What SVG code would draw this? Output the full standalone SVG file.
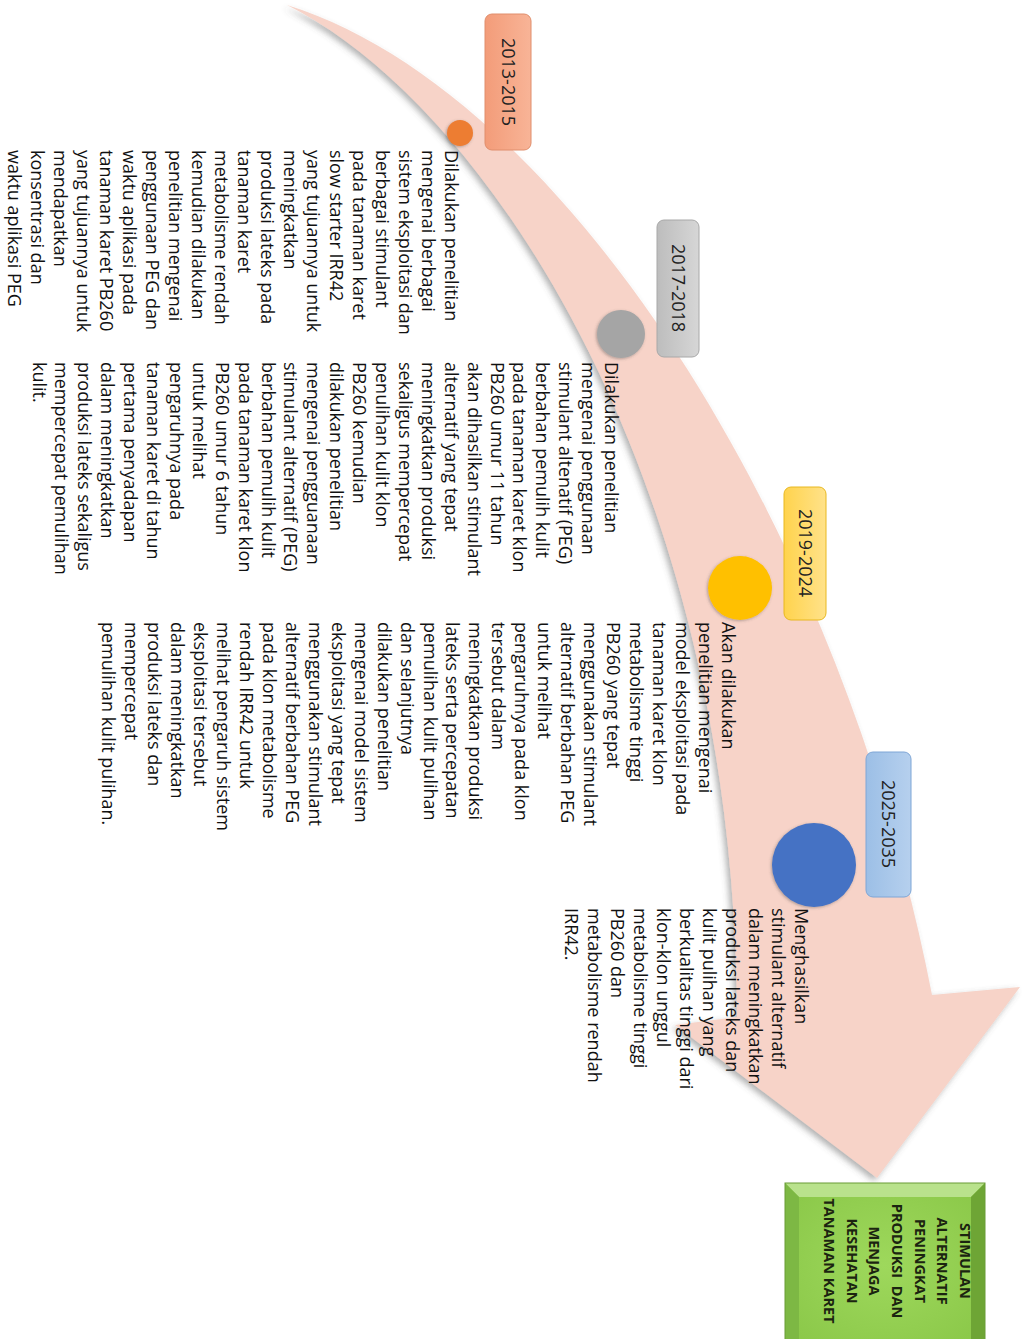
<svg xmlns="http://www.w3.org/2000/svg" width="1022" height="1339" viewBox="0 0 1022 1339">
<style>
.body{font-family:"Open Sans","Liberation Sans",sans-serif;font-size:18px;fill:#111;}
.year{font-family:"Open Sans","Liberation Sans",sans-serif;font-size:18px;fill:#222;text-anchor:middle;}
.goal{font-family:"Open Sans","Liberation Sans",sans-serif;font-size:14.5px;font-weight:bold;fill:#1b2410;text-anchor:middle;}
.ybox{stroke-width:1;}
</style>
<defs>
<filter id="sh" x="-10%" y="-10%" width="120%" height="120%">
<feDropShadow dx="-3" dy="3" stdDeviation="3" flood-color="#555" flood-opacity="0.45"/>
</filter>
<filter id="dsh" x="-30%" y="-30%" width="160%" height="160%">
<feDropShadow dx="-1" dy="1" stdDeviation="1.5" flood-color="#444" flood-opacity="0.4"/>
</filter>
<linearGradient id="g13" x1="0" y1="0" x2="1" y2="0"><stop offset="0" stop-color="#f39c79"/><stop offset="1" stop-color="#f8b497"/></linearGradient>
<linearGradient id="g17" x1="0" y1="0" x2="1" y2="0"><stop offset="0" stop-color="#bdbdbd"/><stop offset="1" stop-color="#d6d6d6"/></linearGradient>
<linearGradient id="g19" x1="0" y1="0" x2="1" y2="0"><stop offset="0" stop-color="#ffd34d"/><stop offset="1" stop-color="#ffe28a"/></linearGradient>
<linearGradient id="g25" x1="0" y1="0" x2="1" y2="0"><stop offset="0" stop-color="#9cbfe6"/><stop offset="1" stop-color="#b6d0ee"/></linearGradient>
<radialGradient id="gg" cx="0.5" cy="0.5" r="0.6"><stop offset="0" stop-color="#9ed85c"/><stop offset="1" stop-color="#8cc94a"/></radialGradient>
</defs>
<rect width="1022" height="1339" fill="#ffffff"/>

<g id="connectors">
<path id="timeline-arrow" d="M287,5 C560,90 840,520 932,995 L1020,987 L877,1178 L675,1025 L737,1017 C735,470 480,100 287,5 Z" fill="#f7d3c8" filter="url(#sh)"/>
</g>

<g id="node-2013">
<rect class="ybox" x="485" y="14" width="46" height="136" rx="7" fill="url(#g13)" stroke="#e08e6c"/>
<text class="year" transform="translate(501.6,82) rotate(90)">2013-2015</text>
<circle cx="460" cy="133" r="13" fill="#ed7d31" filter="url(#dsh)"/>
<text class="body" transform="translate(445,150) rotate(90)">
<tspan x="0" y="0">Dilakukan penelitian</tspan>
<tspan x="0" y="23">mengenai berbagai</tspan>
<tspan x="0" y="46">sistem eksploitasi dan</tspan>
<tspan x="0" y="69">berbagai stimulant</tspan>
<tspan x="0" y="92">pada tanaman karet</tspan>
<tspan x="0" y="115">slow starter IRR42</tspan>
<tspan x="0" y="138">yang tujuannya untuk</tspan>
<tspan x="0" y="161">meningkatkan</tspan>
<tspan x="0" y="184">produksi lateks pada</tspan>
<tspan x="0" y="207">tanaman karet</tspan>
<tspan x="0" y="230">metabolisme rendah</tspan>
<tspan x="0" y="253">kemudian dilakukan</tspan>
<tspan x="0" y="276">penelitian mengenai</tspan>
<tspan x="0" y="299">penggunaan PEG dan</tspan>
<tspan x="0" y="322">waktu aplikasi pada</tspan>
<tspan x="0" y="345">tanaman karet PB260</tspan>
<tspan x="0" y="368">yang tujuannya untuk</tspan>
<tspan x="0" y="391">mendapatkan</tspan>
<tspan x="0" y="414">konsentrasi dan</tspan>
<tspan x="0" y="437">waktu aplikasi PEG</tspan>
</text>
</g>

<g id="node-2017">
<rect class="ybox" x="657" y="220" width="42" height="137" rx="7" fill="url(#g17)" stroke="#a8a8a8"/>
<text class="year" transform="translate(671.5,288) rotate(90)">2017-2018</text>
<circle cx="621" cy="334" r="24" fill="#a5a5a5" filter="url(#dsh)"/>
<text class="body" transform="translate(605,362) rotate(90)">
<tspan x="0" y="0">Dilakukan penelitian</tspan>
<tspan x="0" y="22.9">mengenai penggunaan</tspan>
<tspan x="0" y="45.8">stimulant altenatif (PEG)</tspan>
<tspan x="0" y="68.7">berbahan pemulih kulit</tspan>
<tspan x="0" y="91.6">pada tanaman karet klon</tspan>
<tspan x="0" y="114.5">PB260 umur 11 tahun</tspan>
<tspan x="0" y="137.4">akan dihasilkan stimulant</tspan>
<tspan x="0" y="160.3">alternatif yang tepat</tspan>
<tspan x="0" y="183.2">meningkatkan produksi</tspan>
<tspan x="0" y="206.1">sekaligus mempercepat</tspan>
<tspan x="0" y="229">penulihan kulit klon</tspan>
<tspan x="0" y="251.9">PB260 kemudian</tspan>
<tspan x="0" y="274.8">dilakukan penelitian</tspan>
<tspan x="0" y="297.7">mengenai pengguanaan</tspan>
<tspan x="0" y="320.6">stimulant alternatif (PEG)</tspan>
<tspan x="0" y="343.5">berbahan pemulih kulit</tspan>
<tspan x="0" y="366.4">pada tanaman karet klon</tspan>
<tspan x="0" y="389.3">PB260 umur 6 tahun</tspan>
<tspan x="0" y="412.2">untuk melihat</tspan>
<tspan x="0" y="435.1">pengaruhnya pada</tspan>
<tspan x="0" y="458">tanaman karet di tahun</tspan>
<tspan x="0" y="480.9">pertama penyadapan</tspan>
<tspan x="0" y="503.8">dalam meningkatkan</tspan>
<tspan x="0" y="526.7">produksi lateks sekaligus</tspan>
<tspan x="0" y="549.6">mempercepat pemulihan</tspan>
<tspan x="0" y="572.5">kulit.</tspan>
</text>
</g>

<g id="node-2019">
<rect class="ybox" x="784" y="487" width="42" height="133" rx="7" fill="url(#g19)" stroke="#e8b820"/>
<text class="year" transform="translate(798.5,553) rotate(90)">2019-2024</text>
<circle cx="740" cy="588" r="32" fill="#ffc000" filter="url(#dsh)"/>
<text class="body" transform="translate(722,622) rotate(90)">
<tspan x="0" y="0">Akan dilakukan</tspan>
<tspan x="0" y="22.96">penelitian mengenai</tspan>
<tspan x="0" y="45.92">model eksploitasi pada</tspan>
<tspan x="0" y="68.88">tanaman karet klon</tspan>
<tspan x="0" y="91.84">metabolisme tinggi</tspan>
<tspan x="0" y="114.8">PB260 yang tepat</tspan>
<tspan x="0" y="137.76">menggunakan stimulant</tspan>
<tspan x="0" y="160.72">alternatif berbahan PEG</tspan>
<tspan x="0" y="183.68">untuk melihat</tspan>
<tspan x="0" y="206.64">pengaruhnya pada klon</tspan>
<tspan x="0" y="229.6">tersebut dalam</tspan>
<tspan x="0" y="252.56">meningkatkan produksi</tspan>
<tspan x="0" y="275.52">lateks serta percepatan</tspan>
<tspan x="0" y="298.48">pemulihan kulit pulihan</tspan>
<tspan x="0" y="321.44">dan selanjutnya</tspan>
<tspan x="0" y="344.4">dilakukan penelitian</tspan>
<tspan x="0" y="367.36">mengenai model sistem</tspan>
<tspan x="0" y="390.32">eksploitasi yang tepat</tspan>
<tspan x="0" y="413.28">menggunakan stimulant</tspan>
<tspan x="0" y="436.24">alternatif berbahan PEG</tspan>
<tspan x="0" y="459.2">pada klon metabolisme</tspan>
<tspan x="0" y="482.16">rendah IRR42 untuk</tspan>
<tspan x="0" y="505.12">melihat pengaruh sistem</tspan>
<tspan x="0" y="528.08">eksploitasi tersebut</tspan>
<tspan x="0" y="551.04">dalam meningkatkan</tspan>
<tspan x="0" y="574">produksi lateks dan</tspan>
<tspan x="0" y="596.96">mempercepat</tspan>
<tspan x="0" y="619.92">pemulihan kulit pulihan.</tspan>
</text>
</g>

<g id="node-2025">
<rect class="ybox" x="866" y="752" width="45" height="145" rx="7" fill="url(#g25)" stroke="#7fa6d6"/>
<text class="year" transform="translate(882,824) rotate(90)">2025-2035</text>
<circle cx="814" cy="865" r="42" fill="#4472c4" filter="url(#dsh)"/>
<text class="body" transform="translate(795,908) rotate(90)">
<tspan x="0" y="0">Menghasilkan</tspan>
<tspan x="0" y="23">stimulant alternatif</tspan>
<tspan x="0" y="46">dalam meningkatkan</tspan>
<tspan x="0" y="69">produksi lateks dan</tspan>
<tspan x="0" y="92">kulit pulihan yang</tspan>
<tspan x="0" y="115">berkualitas tinggi dari</tspan>
<tspan x="0" y="138">klon-klon unggul</tspan>
<tspan x="0" y="161">metabolisme tinggi</tspan>
<tspan x="0" y="184">PB260 dan</tspan>
<tspan x="0" y="207">metabolisme rendah</tspan>
<tspan x="0" y="230">IRR42.</tspan>
</text>
</g>

<g id="node-goal">
<rect x="785" y="1183" width="200" height="165" fill="url(#gg)"/>
<polygon points="785,1183 985,1183 971,1197 799,1197" fill="#b9e28c"/>
<polygon points="785,1183 799,1197 799,1345 785,1345" fill="#7db844"/>
<polygon points="985,1183 985,1345 971,1345 971,1197" fill="#6ea535"/>
<rect x="785" y="1183" width="200" height="165" fill="none" stroke="#6a9c36" stroke-width="1"/>
<text class="goal" xml:space="preserve" transform="translate(960,1261) rotate(90)"><tspan x="0" y="0">STIMULAN</tspan><tspan x="0" y="22.7">ALTERNATIF</tspan><tspan x="0" y="45.4">PENINGKAT</tspan><tspan x="0" y="68.1">PRODUKSI  DAN</tspan><tspan x="0" y="90.8">MENJAGA</tspan><tspan x="0" y="113.5">KESEHATAN</tspan><tspan x="0" y="136.2">TANAMAN KARET</tspan></text>
</g>
</svg>
